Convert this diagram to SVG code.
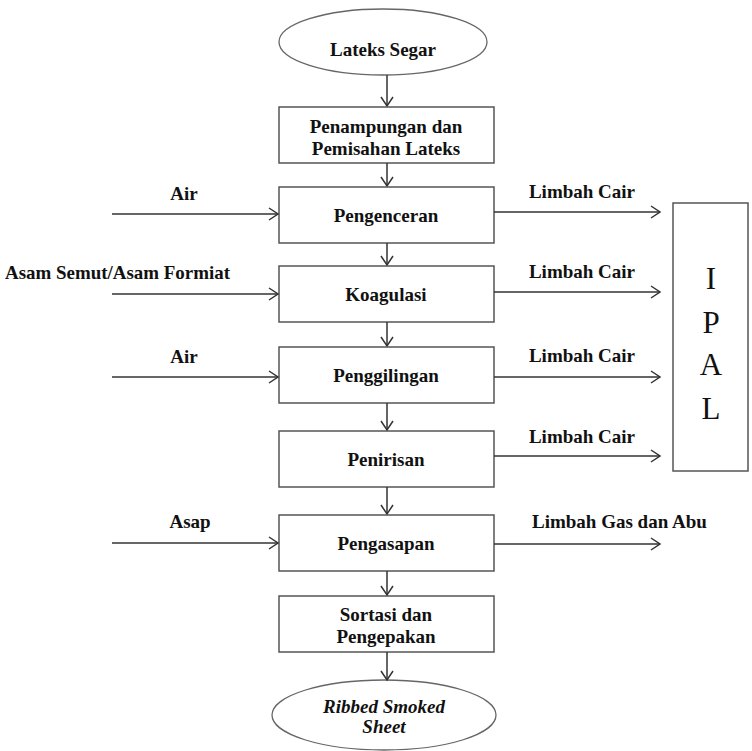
<svg xmlns="http://www.w3.org/2000/svg" width="752" height="751" viewBox="0 0 752 751">
  <defs>
    <marker id="arr" markerUnits="userSpaceOnUse" markerWidth="12" markerHeight="14" refX="10" refY="7" orient="auto">
      <path d="M1,1 L10,7 L1,13" fill="none" stroke="#333" stroke-width="1.5"/>
    </marker>
    <style>
      .box { fill: #fff; stroke: #555; stroke-width: 1.5; }
      .oval { fill: #fff; stroke: #666; stroke-width: 1.3; }
      .lbl { font-family: "Liberation Serif", "Times New Roman", serif; font-size: 19px; font-weight: bold; fill: #111; }
      .mid { text-anchor: middle; }
      .ital { font-style: italic; }
      .big { font-family: "Liberation Serif", "Times New Roman", serif; font-size: 31px; fill: #111; text-anchor: middle; }
      .flow { stroke: #333; stroke-width: 1.5; fill: none; marker-end: url(#arr); }
    </style>
  </defs>
  <rect width="752" height="751" fill="#fff"/>

  <!-- process chain -->
  <g id="lateks-segar">
    <ellipse class="oval" cx="383" cy="42" rx="104" ry="33"/>
    <text class="lbl mid" x="383" y="56">Lateks Segar</text>
  </g>
  <g id="penampungan">
    <rect class="box" x="279" y="107" width="215" height="56"/>
    <text class="lbl mid" x="386" y="133">Penampungan dan</text>
    <text class="lbl mid" x="386" y="155">Pemisahan Lateks</text>
  </g>
  <g id="pengenceran">
    <rect class="box" x="279" y="187" width="215" height="56"/>
    <text class="lbl mid" x="386" y="222">Pengenceran</text>
  </g>
  <g id="koagulasi">
    <rect class="box" x="279" y="266" width="215" height="56"/>
    <text class="lbl mid" x="386" y="301">Koagulasi</text>
  </g>
  <g id="penggilingan">
    <rect class="box" x="279" y="347" width="215" height="56"/>
    <text class="lbl mid" x="386" y="382">Penggilingan</text>
  </g>
  <g id="penirisan">
    <rect class="box" x="279" y="431" width="215" height="56"/>
    <text class="lbl mid" x="386" y="466">Penirisan</text>
  </g>
  <g id="pengasapan">
    <rect class="box" x="279" y="515" width="215" height="56"/>
    <text class="lbl mid" x="386" y="550">Pengasapan</text>
  </g>
  <g id="sortasi">
    <rect class="box" x="279" y="596" width="215" height="56"/>
    <text class="lbl mid" x="386" y="621">Sortasi dan</text>
    <text class="lbl mid" x="386" y="643">Pengepakan</text>
  </g>
  <g id="rss">
    <ellipse class="oval" cx="384" cy="715" rx="112" ry="35"/>
    <text class="lbl mid ital" x="384" y="713">Ribbed Smoked</text>
    <text class="lbl mid ital" x="384" y="733">Sheet</text>
  </g>

  <!-- wastewater treatment -->
  <g id="ipal">
    <rect class="box" x="673" y="203" width="75" height="268"/>
    <text class="big" x="711" y="289">I</text>
    <text class="big" x="711" y="333">P</text>
    <text class="big" x="711" y="375">A</text>
    <text class="big" x="711" y="419">L</text>
  </g>

  <!-- inputs and outputs labels -->
  <g id="labels">
    <text class="lbl mid" x="184" y="200">Air</text>
    <text class="lbl" x="5" y="279" textLength="225" lengthAdjust="spacingAndGlyphs">Asam Semut/Asam Formiat</text>
    <text class="lbl mid" x="184" y="363">Air</text>
    <text class="lbl mid" x="190" y="528">Asap</text>
    <text class="lbl mid" x="582" y="198">Limbah Cair</text>
    <text class="lbl mid" x="582" y="278">Limbah Cair</text>
    <text class="lbl mid" x="582" y="362">Limbah Cair</text>
    <text class="lbl mid" x="582" y="443">Limbah Cair</text>
    <text class="lbl" x="532" y="528">Limbah Gas dan Abu</text>
  </g>

  <!-- connectors -->
  <g id="connectors">
    <line class="flow" x1="387" y1="75" x2="387" y2="106"/>
    <line class="flow" x1="387" y1="163" x2="387" y2="186"/>
    <line class="flow" x1="387" y1="243" x2="387" y2="265"/>
    <line class="flow" x1="387" y1="322" x2="387" y2="346"/>
    <line class="flow" x1="387" y1="403" x2="387" y2="430"/>
    <line class="flow" x1="387" y1="487" x2="387" y2="514"/>
    <line class="flow" x1="387" y1="571" x2="387" y2="595"/>
    <line class="flow" x1="387" y1="652" x2="387" y2="680"/>

    <line class="flow" x1="112" y1="214" x2="278" y2="214"/>
    <line class="flow" x1="112" y1="294" x2="278" y2="294"/>
    <line class="flow" x1="112" y1="377" x2="278" y2="377"/>
    <line class="flow" x1="112" y1="543" x2="278" y2="543"/>

    <line class="flow" x1="494" y1="212" x2="660" y2="212"/>
    <line class="flow" x1="494" y1="292" x2="660" y2="292"/>
    <line class="flow" x1="494" y1="377" x2="660" y2="377"/>
    <line class="flow" x1="494" y1="456" x2="660" y2="456"/>
    <line class="flow" x1="494" y1="544" x2="660" y2="544"/>
  </g>
</svg>
